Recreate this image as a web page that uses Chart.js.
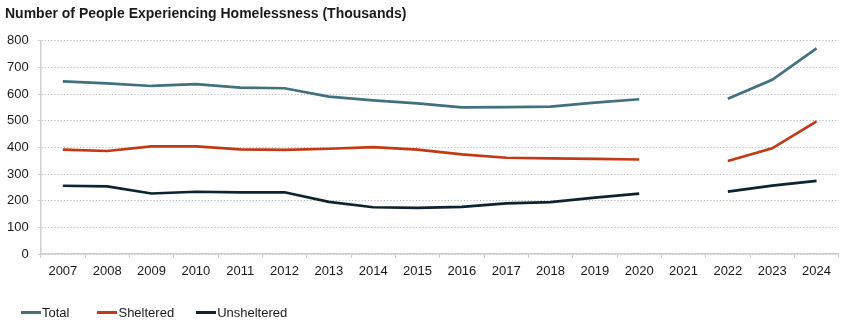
<!DOCTYPE html>
<html>
<head>
<meta charset="utf-8">
<script src="https://cdn.jsdelivr.net/npm/chart.js@4.4.1/dist/chart.umd.min.js"></script>
<style>
  html, body { margin: 0; padding: 0; background: #ffffff; }
  #wrap { position: relative; width: 850px; height: 324px; overflow: hidden; font-family: "Liberation Sans", Arial, sans-serif; }
  #title { position: absolute; left: 5px; top: 5px; font-size: 14px; font-weight: bold; color: #1a1a1a; white-space: nowrap; }
  #chart { position: absolute; left: 0; top: 0; }
  #legend { position: absolute; left: 21px; top: 305px; display: flex; font-size: 13px; color: #1a1a1a; }
  .item { display: flex; align-items: center; }
  .swatch { width: 20px; height: 2.6px; margin-right: 1px; }
</style>
</head>
<body>
<div id="wrap">
  <canvas id="chart" width="850" height="324"></canvas>
  <div id="title">Number of People Experiencing Homelessness (Thousands)</div>
  <div id="legend"></div>
</div>
<script>
// Point-in-time counts, thousands of people (no count published for 2021)
const years = ['2007','2008','2009','2010','2011','2012','2013','2014','2015','2016','2017','2018','2019','2020','2021','2022','2023','2024'];
const total = [647.3, 639.8, 630.2, 637.1, 623.8, 621.6, 590.4, 576.5, 564.7, 549.9, 551.0, 552.8, 567.7, 580.5, null, 582.5, 653.1, 771.5];
const sheltered = [391.4, 386.4, 403.3, 403.5, 392.3, 390.2, 394.7, 401.1, 391.4, 373.6, 360.9, 358.4, 356.4, 354.4, null, 348.6, 396.5, 497.3];
const unsheltered = [255.9, 253.4, 226.9, 233.5, 231.5, 231.4, 195.7, 175.4, 173.3, 176.4, 190.1, 194.5, 211.3, 226.1, null, 233.8, 256.6, 274.2];
const seriesNames = ['Total', 'Sheltered', 'Unsheltered'];
const seriesColors = ['#42707f', '#c23a14', '#0e2331'];
const yTicks = [0, 100, 200, 300, 400, 500, 600, 700, 800];

const seriesData = [total, sheltered, unsheltered];

const datasets = seriesNames.map((name, i) => ({
  label: name,
  data: seriesData[i],
  borderColor: seriesColors[i],
  backgroundColor: seriesColors[i],
  borderWidth: 2.7,
  pointRadius: 0,
  pointHoverRadius: 0,
  tension: 0,
  spanGaps: false,
  fill: false
}));

// legend row under the chart
const legend = document.getElementById('legend');
const legendGaps = [28, 22, 0];
seriesNames.forEach((name, i) => {
  const item = document.createElement('div');
  item.className = 'item';
  item.style.marginRight = legendGaps[i] + 'px';
  const sw = document.createElement('div');
  sw.className = 'swatch';
  sw.style.background = seriesColors[i];
  const tx = document.createElement('span');
  tx.textContent = name;
  item.appendChild(sw);
  item.appendChild(tx);
  legend.appendChild(item);
});

const font = { family: '"Liberation Sans", Arial, sans-serif', size: 13 };

new Chart(document.getElementById('chart'), {
  type: 'line',
  data: { labels: years, datasets },
  options: {
    responsive: false,
    animation: false,
    events: [],
    layout: { padding: { top: 40.7, right: 11.3, bottom: 40, left: 0 } },
    plugins: { legend: { display: false }, title: { display: false }, tooltip: { enabled: false } },
    scales: {
      x: {
        offset: true,
        afterFit: s => { s.height = 30; },
        grid: {
          offset: true,
          drawOnChartArea: false,
          drawTicks: true,
          tickLength: 4,
          tickColor: '#cfcfcf',
          tickWidth: 1
        },
        border: { display: true, color: '#cfcfcf', width: 1.5 },
        ticks: { font, color: '#1a1a1a', padding: 6, maxRotation: 0, autoSkip: false }
      },
      y: {
        min: 0,
        max: 800,
        afterFit: s => { s.width = 40.7; },
        afterBuildTicks: s => { s.ticks = yTicks.map(v => ({ value: v })); },
        grid: {
          color: '#b8b8b8',
          lineWidth: 1,
          drawTicks: true,
          tickLength: 3,
          tickColor: '#cfcfcf',
          tickBorderDash: []
        },
        border: { display: true, color: '#cfcfcf', width: 1.5, dash: [1.2, 2] },
        ticks: { font, color: '#1a1a1a', padding: 9 }
      }
    }
  }
});
</script>
</body>
</html>
